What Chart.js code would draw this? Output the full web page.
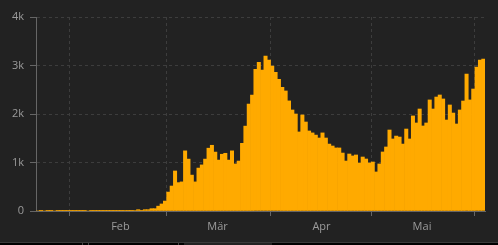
<!DOCTYPE html>
<html>
<head>
<meta charset="utf-8">
<script src="https://cdn.jsdelivr.net/npm/chart.js@4/dist/chart.umd.min.js"></script>
<style>
body { margin: 0; background: #222; width: 498px; height: 245px; overflow: hidden; position: relative; }
#wrap { position: absolute; left: 0; top: 0; width: 498px; height: 242px; }
.strip { position: absolute; left: 0; top: 242px; width: 498px; height: 2px; background: #000; border-top: 1px solid #3a3a3a; }
.tab { position: absolute; top: 243px; height: 2px; background: #222; }
.sep { position: absolute; top: 243px; width: 1px; height: 2px; background: #444; }
</style>
</head>
<body>
<div id="wrap"><canvas id="chart"></canvas></div>
<div class="strip"></div>
<div class="tab" style="left:184px;width:88px"></div>
<div class="sep" style="left:82px"></div>
<div class="sep" style="left:88px"></div>
<div class="sep" style="left:178px"></div>
<script>
"use strict"

// daily values, first day 2020-01-22
const startDay = "2020-01-22";
const cases = [
  0, 1, 0, 2, 1, 0, 3, 2, 1, 4,
  2, 1, 3, 5, 2, 0, 4, 3, 2, 6,
  3, 2, 5, 4, 3, 6, 8, 5, 4, 10,
  27, 14, 27, 27, 48, 48, 100, 145, 205, 390,
  515, 825, 585, 600, 1240, 1070, 740, 600, 885, 950,
  1070, 1295, 1355, 1215, 1050, 1170, 1190, 1050, 1240, 970,
  1030, 1395, 1750, 2205, 2390, 2920, 3065, 2905, 3195, 3110,
  2990, 2860, 2715, 2550, 2475, 2270, 2083, 2000, 1630, 1980,
  1835, 1650, 1610, 1565, 1505, 1610, 1505, 1380, 1340, 1300,
  1300, 1195, 1030, 1175, 1135, 1155, 990, 1113, 1072, 990,
  1010, 805, 970, 1217, 1320, 1670, 1485, 1545, 1525, 1380,
  1690, 1485, 1960, 1815, 2103, 1753, 1815, 2290, 2103, 2350,
  2392, 2310, 1876, 2186, 2020, 1794, 2083, 2268, 2825, 2290,
  2515, 2970, 3113, 3134
];

// grid lines at month starts, names in the middle of the month
const monthStarts = ["2020-02-01", "2020-03-01", "2020-04-01", "2020-05-01", "2020-06-01"];
const monthNames = ["Feb", "Mär", "Apr", "Mai"];
const monthMiddles = ["2020-02-16", "2020-03-16", "2020-04-16", "2020-05-16"];

const yTicks = [0, 1000, 2000, 3000, 4000];
const yTickLabels = ["0", "1k", "2k", "3k", "4k"];

// one extra day, the last grid line sits after the last bar
const days = [];
let d = new Date(startDay + "T00:00:00Z");
for (let i = 0; i <= cases.length; i++) {
  days.push(d.toISOString().slice(0, 10));
  d.setUTCDate(d.getUTCDate() + 1);
}
const labels = days.slice(0, cases.length);

function isMonthStart(i) {
  return typeof i === "number" && monthStarts.includes(days[i]);
}

const axisColor = "#666";
const gridColor = "#3d3d3d";
const textColor = "#9b9b9b";
const font = { family: "'Open Sans', 'Noto Sans', sans-serif", size: 11 };

new Chart(document.getElementById("chart"), {
  type: "bar",
  data: {
    labels: labels,
    datasets: [{
      data: cases,
      backgroundColor: "#ffaa00",
      borderWidth: 0,
      barPercentage: 1,
      categoryPercentage: 1
    }]
  },
  options: {
    responsive: true,
    maintainAspectRatio: false,
    animation: false,
    layout: { padding: { top: 17, right: 13, left: 0, bottom: 0 } },
    plugins: { legend: { display: false }, tooltip: { enabled: false } },
    scales: {
      x: {
        offset: true,
        afterFit: s => { s.height = 31; },
        grid: {
          offset: true,
          color: c => isMonthStart(c.index) ? gridColor : "transparent",
          tickColor: c => isMonthStart(c.index) ? axisColor : "transparent",
          tickLength: 5
        },
        border: { color: axisColor, dash: [3, 3] },
        ticks: {
          autoSkip: false,
          maxRotation: 0,
          padding: 4,
          labelOffset: -1,
          color: textColor,
          font: font,
          callback: (v, i) => {
            const k = monthMiddles.indexOf(labels[i]);
            return k >= 0 ? monthNames[k] : "";
          }
        }
      },
      y: {
        min: yTicks[0],
        max: yTicks[yTicks.length - 1],
        afterFit: s => { s.width = 36; },
        grid: {
          color: c => (c.tick && c.tick.value === 0) ? "transparent" : gridColor,
          tickColor: axisColor,
          tickLength: 6
        },
        border: { color: axisColor, dash: [3, 3] },
        ticks: {
          stepSize: 1000,
          padding: 6,
          color: textColor,
          font: font,
          callback: v => {
            const k = yTicks.indexOf(v);
            return k >= 0 ? yTickLabels[k] : "";
          }
        }
      }
    }
  }
});
</script>
</body>
</html>
